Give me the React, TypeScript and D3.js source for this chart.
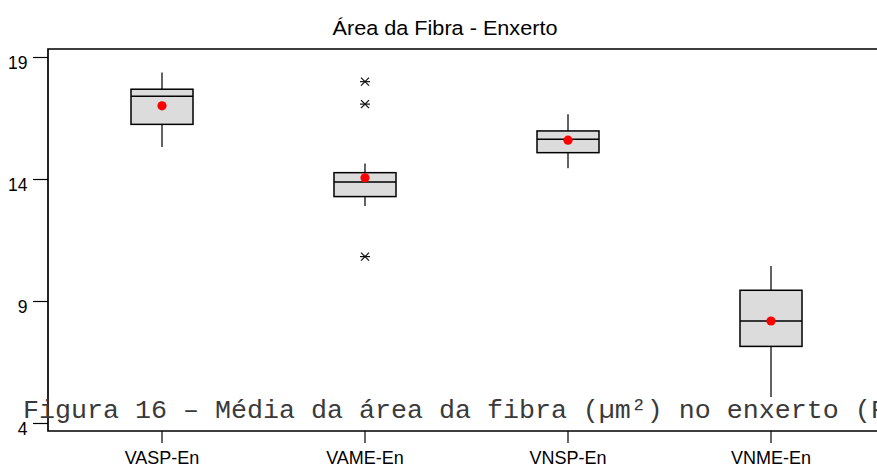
import React from "react";
import * as d3 from "d3";

const categories = ["VASP-En", "VAME-En", "VNSP-En", "VNME-En"];
const whiskerLow = [15.33, 12.91, 14.46, 5.09];
const q1 = [16.26, 13.3, 15.1, 7.16];
const median = [17.41, 13.9, 15.65, 8.2];
const q3 = [17.7, 14.28, 15.99, 9.46];
const whiskerHigh = [18.39, 14.66, 16.67, 10.45];
const means = [17.02, 14.07, 15.61, 8.2];
const outlierCats = ["VAME-En", "VAME-En", "VAME-En"];
const outlierValues = [18.01, 17.09, 10.84];
const yTicks = [4, 9, 14, 19];

const title = "Área da Fibra - Enxerto";
const caption = "Figura 16 – Média da área da fibra (µm²) no enxerto (F";

export default function App() {
  const W = 877;
  const H = 468;
  const left = 48;
  const top = 49;
  const bottom = 431;
  const right = 885;

  const y = d3.scaleLinear().domain([4, 19]).range([423.5, 57.5]);
  const x = d3.scalePoint<string>().domain(categories).range([162, 771]);
  const boxW = 62;
  const sans = "Arial, 'Liberation Sans', sans-serif";

  const star = (cx: number, cy: number, key: string) => {
    const r = 5;
    const d = 4;
    return (
      <g key={key} stroke="#111" strokeWidth={1.2}>
        <line x1={cx - r} x2={cx + r} y1={cy} y2={cy} />
        <line x1={cx - d} x2={cx + d} y1={cy - d} y2={cy + d} />
        <line x1={cx - d} x2={cx + d} y1={cy + d} y2={cy - d} />
      </g>
    );
  };

  return (
    <svg
      width={W}
      height={H}
      style={{ position: "absolute", left: 0, top: 0, background: "#fff" }}
      fontFamily={sans}
    >
      <rect x={0} y={0} width={W} height={H} fill="#fff" />
      <text
        x={445}
        y={35}
        textAnchor="middle"
        fontSize={20.5}
        textLength={225}
        lengthAdjust="spacingAndGlyphs"
        fill="#000"
      >
        {title}
      </text>

      {/* frame */}
      <path
        d={`M${right},${top}H${left}V${bottom}H${right}`}
        fill="none"
        stroke="#000"
        strokeWidth={1.7}
      />

      {/* y axis ticks */}
      {yTicks.map((t) => (
        <g key={t}>
          <line x1={33} x2={left} y1={y(t)} y2={y(t)} stroke="#000" strokeWidth={1.2} />
          <text x={27.5} y={y(t) + 11.5} textAnchor="end" fontSize={17.5} fill="#000">
            {t}
          </text>
        </g>
      ))}

      {/* x axis ticks */}
      {categories.map((c) => (
        <g key={c}>
          <line x1={x(c)!} x2={x(c)!} y1={bottom} y2={443} stroke="#000" strokeWidth={1.2} />
          <text x={x(c)!} y={464} textAnchor="middle" fontSize={18} fill="#000">
            {c}
          </text>
        </g>
      ))}

      {/* boxes */}
      {categories.map((c, i) => {
        const cx = x(c)!;
        return (
          <g key={c}>
            <line x1={cx} x2={cx} y1={y(whiskerHigh[i])} y2={y(q3[i])} stroke="#222" strokeWidth={1.4} />
            <line x1={cx} x2={cx} y1={y(q1[i])} y2={y(whiskerLow[i])} stroke="#222" strokeWidth={1.4} />
            <rect
              x={cx - boxW / 2}
              y={y(q3[i])}
              width={boxW}
              height={y(q1[i]) - y(q3[i])}
              fill="#dcdcdc"
              stroke="#000"
              strokeWidth={1.5}
            />
            <line
              x1={cx - boxW / 2}
              x2={cx + boxW / 2}
              y1={y(median[i])}
              y2={y(median[i])}
              stroke="#000"
              strokeWidth={1.5}
            />
            <circle cx={cx} cy={y(means[i])} r={4.6} fill="#ff0000" />
          </g>
        );
      })}

      {outlierValues.map((v, i) => star(x(outlierCats[i])!, y(v), "o" + i))}

      <text
        x={23}
        y={418}
        fontFamily="'Courier New', 'Liberation Mono', monospace"
        fontSize={26.67}
        fill="#3a3a3a"
        style={{ whiteSpace: "pre" }}
      >
        {caption}
      </text>
    </svg>
  );
}
